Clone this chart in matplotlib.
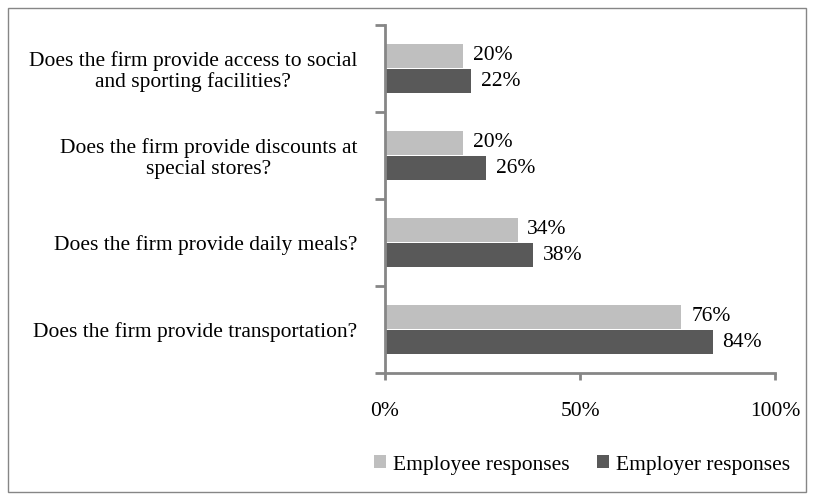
import numpy as np
import matplotlib.pyplot as plt
from matplotlib.patches import Rectangle

# Questions, bottom to top as drawn on the chart
questions = [
    "Does the firm provide transportation?",
    "Does the firm provide daily meals?",
    "Does the firm provide discounts at\nspecial stores?",
    "Does the firm provide access to social\nand sporting facilities?",
]
employee = [76, 34, 20, 20]
employer = [84, 38, 26, 22]

light = "#bfbfbf"
dark = "#595959"
axis_gray = "#868686"
fs = 15.5

plt.rcParams['font.family'] = ['Liberation Serif', 'DejaVu Serif']

fig = plt.figure(figsize=(8.15, 5.0), dpi=100)
ax = fig.add_axes([385 / 815, 1 - 373 / 500, 390 / 815, 348 / 500])

y = np.arange(len(questions))
h = 0.28
off = 0.145
b1 = ax.barh(y + off, employee, height=h, color=light, label="Employee responses")
b2 = ax.barh(y - off, employer, height=h, color=dark, label="Employer responses")

for bars, vals in ((b1, employee), (b2, employer)):
    for bar, v in zip(bars, vals):
        ax.text(v + 2.5, bar.get_y() + bar.get_height() / 2, "{0}%".format(v),
                va="center", ha="left", fontsize=fs)

ax.set_xlim(0, 100)
ax.set_ylim(-0.5, len(questions) - 0.5)
ax.set_xticks([0, 50, 100])
ax.set_xticklabels(["0%", "50%", "100%"], fontsize=fs)
ax.set_yticks(y)
ax.set_yticklabels(questions, fontsize=fs, multialignment="center", linespacing=1.1)
ax.set_yticks(np.arange(len(questions) + 1) - 0.5, minor=True)

for side in ("top", "right"):
    ax.spines[side].set_visible(False)
for side in ("left", "bottom"):
    ax.spines[side].set_color(axis_gray)
    ax.spines[side].set_linewidth(2)

ax.tick_params(axis="y", which="major", length=0, pad=20)
ax.tick_params(axis="y", which="minor", length=7, width=2, color=axis_gray)
ax.tick_params(axis="x", length=5, width=2, color=axis_gray, pad=16, direction="out")

fig.legend(handles=[b1, b2], loc="center", bbox_to_anchor=(582 / 815, 1 - 465 / 500),
           ncol=2, frameon=False, fontsize=fs, handlelength=0.55, handleheight=0.55,
           handletextpad=0.3, columnspacing=1.3)

fig.patches.append(Rectangle((8 / 815, 8 / 500), 798 / 815, 484 / 500, transform=fig.transFigure,
                             fill=False, edgecolor=axis_gray, linewidth=1))

plt.savefig("out.png", dpi=100)
